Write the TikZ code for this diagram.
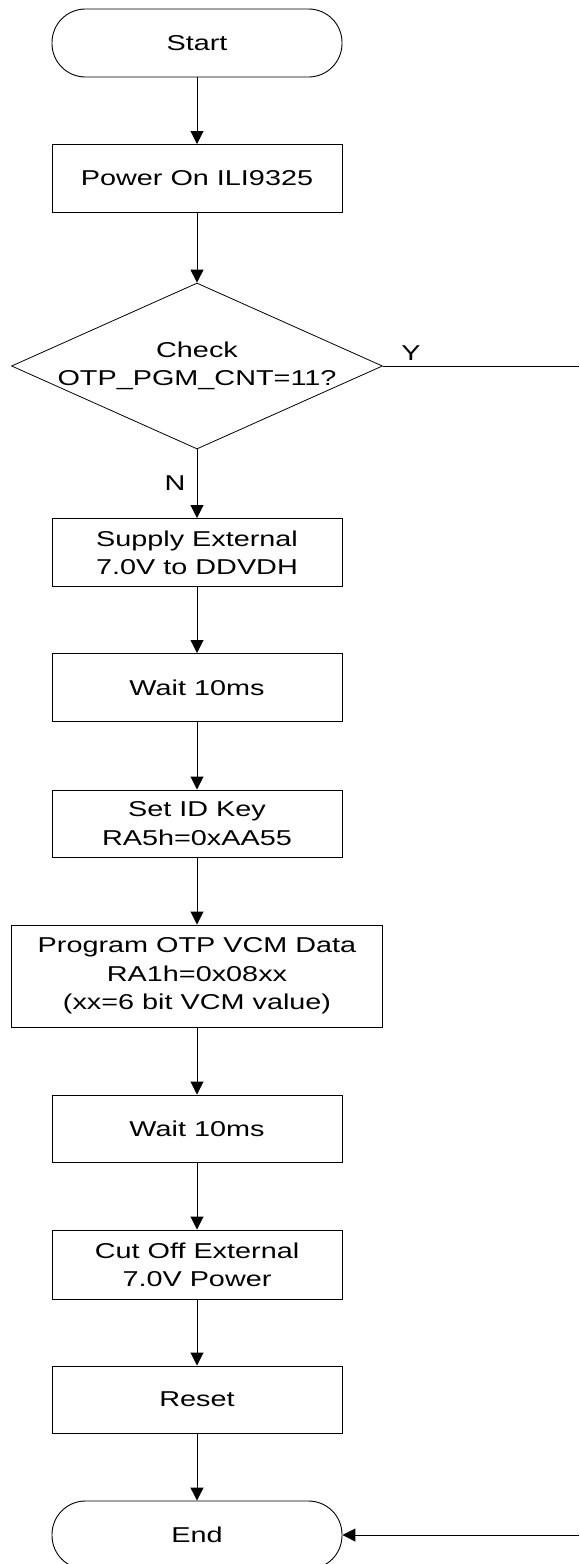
\documentclass[tikz,border=0pt]{standalone}
\usepackage{fontspec}
\setmainfont{Liberation Sans}[FakeStretch=1.34]
\newcommand{\flowfont}{\fontsize{21.5}{28.3}\selectfont}
\usepackage{tikz}
\usetikzlibrary{shapes.geometric, arrows.meta, positioning}

\begin{document}
\begin{tikzpicture}[
  x=1pt, y=-1pt,
  procbox/.style={draw, line width=1pt, minimum width=290pt, minimum height=68pt, align=center, inner sep=0pt, font=\flowfont},
  termbox/.style={draw, line width=0.9pt, rounded corners=33.5pt, minimum width=290pt, minimum height=68pt, inner sep=0pt, font=\flowfont},
  decision/.style={draw, diamond, line width=0.8pt, minimum width=371pt, minimum height=166pt, inner sep=0pt},
  arr/.style={line width=1pt, -{Triangle[length=13pt, width=13pt]}}
]
  \useasboundingbox (0,0) rectangle (579,1564);
  \clip (0,0) rectangle (579,1564);

  \node[termbox] (start) at (197, 43) {Start};
  \node[procbox] (power) at (197, 178.5) {Power On ILI9325};
  \node[decision, label={[font=\flowfont, align=center]center:{Check\\OTP\_PGM\_CNT=11?}}] (chk) at (197, 366) {};
  \node[procbox] (supply) at (197, 552.5) {Supply External\\7.0V to DDVDH};
  \node[procbox] (waitA) at (197, 687.5) {Wait 10ms};
  \node[procbox, minimum height=67pt] (idkey) at (197, 823.5) {Set ID Key\\RA5h=0xAA55};
  \node[procbox, minimum width=371pt, minimum height=102pt] (prog) at (197, 976) {Program OTP VCM Data\\RA1h=0x08xx\\(xx=6 bit VCM value)};
  \node[procbox, minimum height=67pt] (waitB) at (197, 1128.5) {Wait 10ms};
  \node[procbox, minimum height=69pt] (cutoff) at (197, 1264.5) {Cut Off External\\7.0V Power};
  \node[procbox, minimum height=67pt] (reset) at (197, 1399.5) {Reset};
  \node[termbox] (finish) at (197, 1535) {End};

  % branch labels
  \node[font=\flowfont] (ylab) at (411, 353) {Y};
  \node[font=\flowfont] (nlab) at (175, 483) {N};

  % Y branch runs off the right edge and comes back at End
  \coordinate (yout) at (579, 366);
  \coordinate (yin) at (579, 1535);

  \draw[arr] (start) -- (power);
  \draw[arr] (power) -- (chk);
  \draw[arr] (chk) -- (supply);
  \draw[arr] (supply) -- (waitA);
  \draw[arr] (waitA) -- (idkey);
  \draw[arr] (idkey) -- (prog);
  \draw[arr] (prog) -- (waitB);
  \draw[arr] (waitB) -- (cutoff);
  \draw[arr] (cutoff) -- (reset);
  \draw[arr] (reset) -- (finish);
  \draw[line width=1pt] (chk.east) -- (yout);
  \draw[arr] (yin) -- (finish.east);
\end{tikzpicture}
\end{document}
